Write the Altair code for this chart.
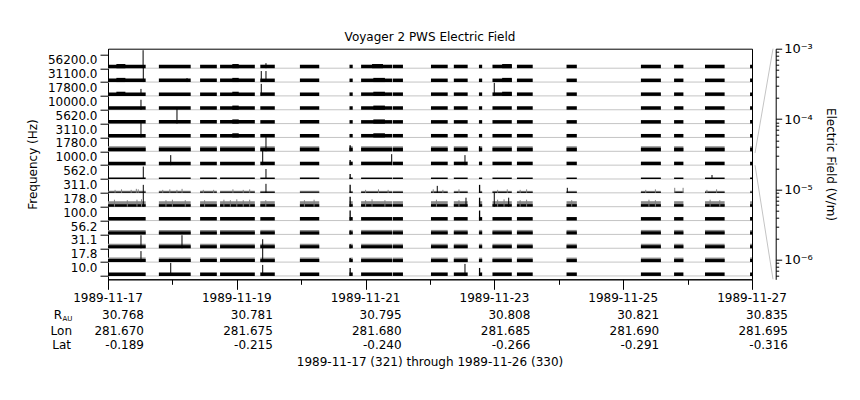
import math
import json
import altair as alt
import pandas as pd

# ---------------- data ----------------
freq_labels = ["56200.0", "31100.0", "17800.0", "10000.0", "5620.0", "3110.0", "1780.0", "1000.0",
               "562.0", "311.0", "178.0", "100.0", "56.2", "31.1", "17.8", "10.0"]

# data-coverage intervals, days after 1989-11-17 00:00
seg_start = [0.00, 0.79, 1.43, 1.74, 2.365, 2.98, 3.75, 3.93, 4.425, 5.015, 5.37, 5.76, 5.97, 6.35, 7.12, 8.275, 8.79, 9.27, 9.97]
seg_end = [0.585, 1.284, 1.69, 2.28, 2.59, 3.28, 3.80, 4.415, 4.58, 5.275, 5.585, 5.81, 6.27, 6.595, 7.28, 8.585, 8.935, 9.575, 10.0]

# typical floor level (V/m) and noise envelope (V/m, 0 = none) per channel
level_E = [4.6e-6, 4.6e-6, 4.6e-6, 4.6e-6, 4.6e-6, 4.6e-6, 4.6e-6, 4.6e-6,
           1.3e-6, 1.0e-6, 2.5e-6, 4.6e-6, 3.4e-6, 3.4e-6, 3.4e-6, 4.6e-6]
noise_E = [0, 0, 0, 0, 0, 0, 1.2e-5, 0,
           0, 1.8e-6, 1.6e-5, 0, 8.6e-6, 8.6e-6, 8.6e-6, 0]

# short raised stretches
bump_ch = [0, 0, 0, 0, 1, 1, 1, 1, 2, 2, 2, 2, 3, 3, 4, 4, 5, 5,
           6, 7, 8, 9, 10, 11, 12, 13, 14, 15,
           6, 9, 10, 11, 15]
bump_start = [0.13, 1.93, 4.10, 6.12, 0.13, 1.93, 4.12, 6.12, 0.13, 1.93, 4.12, 6.12, 1.93, 4.12, 1.93, 4.12, 1.93, 4.12,
              3.75, 3.75, 3.75, 3.75, 3.75, 3.75, 3.75, 3.75, 3.75, 3.75,
              5.76, 5.76, 5.76, 5.76, 5.76]
bump_end = [0.27, 2.03, 4.27, 6.27, 0.27, 2.03, 4.30, 6.27, 0.27, 2.03, 4.30, 6.27, 2.03, 4.30, 2.03, 4.30, 2.03, 4.30,
            3.77, 3.77, 3.77, 3.77, 3.77, 3.77, 3.77, 3.77, 3.77, 3.77,
            5.78, 5.78, 5.78, 5.78, 5.78]
bump_E = [7.0e-6, 7.0e-6, 7.0e-6, 7.0e-6, 7.0e-6, 7.0e-6, 7.0e-6, 7.0e-6, 7.0e-6, 7.0e-6, 7.0e-6, 7.0e-6, 7.0e-6, 7.0e-6, 7.0e-6, 7.0e-6, 7.0e-6, 7.0e-6,
          2.2e-5, 1.2e-5, 1.2e-5, 7.5e-5, 2.6e-4, 2.6e-4, 6.3e-6, 6.3e-6, 6.3e-6, 7.5e-5,
          1.2e-5, 7.5e-5, 1.4e-4, 2.6e-4, 7.5e-5]

# isolated bursts (black)
spike_ch = [0, 0, 1, 1, 1, 1, 2, 2, 2, 3, 4, 5, 6, 7, 7, 7, 7,
            8, 8, 8, 9, 9, 9, 9, 10, 10, 10, 10, 13, 13, 13, 14, 14, 15, 15, 15]
spike_day = [0.545, 2.453, 0.548, 2.38, 2.453, 1.227, 0.512, 2.38, 5.998, 0.512, 1.071, 0.512, 2.453, 0.974, 2.402, 4.405, 5.543,
             0.548, 2.453, 9.379, 0.548, 2.453, 5.113, 7.132, 0.548, 5.998, 6.222, 5.559, 0.512, 1.149, 2.402, 0.512, 2.402, 0.974, 2.402, 5.543]
spike_E = [3.7e-2, 1.2e-5, 3.1e-3, 4.8e-4, 4.8e-4, 6.3e-6, 4.0e-5, 8.9e-4, 1.7e-3, 2.6e-4, 5.7e-3, 5.7e-3, 1.1e-2, 2.6e-4, 5.7e-3, 4.8e-4, 2.6e-4,
           1.2e-3, 2.6e-4, 6.3e-6, 7.5e-5, 1.4e-4, 4.0e-5, 1.2e-5, 3.1e-3, 3.1e-3, 1.4e-4, 1.4e-4, 1.7e-3, 1.7e-3, 1.4e-4, 4.8e-4, 3.1e-3, 1.7e-3, 4.8e-4, 8.9e-4]

# small grey noise ticks
tick_ch = [9] * 30 + [10] * 30
tick_day = [0.11, 0.21, 0.36, 0.44, 0.47, 0.85, 0.96, 1.07, 1.15, 1.48, 1.64, 1.94, 2.10, 2.20, 4.00, 4.20, 4.35,
            5.05, 5.20, 5.45, 6.05, 6.20, 6.40, 6.50, 8.35, 8.50, 9.30, 9.45, 8.80, 8.93,
            0.10, 0.30, 0.45, 0.52, 0.90, 1.00, 1.20, 1.50, 1.80, 1.90, 2.00, 2.10, 2.20, 2.45, 3.05,
            3.20, 4.00, 4.10, 4.30, 5.10, 5.45, 6.05, 6.15, 6.40, 6.50, 8.40, 8.50, 9.35, 9.50, 7.20]
tick_E = [3.4e-6, 4.6e-6, 3.4e-6, 6.3e-6, 4.6e-6, 3.4e-6, 4.6e-6, 3.4e-6, 6.3e-6, 3.4e-6, 3.4e-6, 4.6e-6, 3.4e-6, 4.6e-6, 3.4e-6, 4.6e-6, 3.4e-6,
          4.6e-6, 3.4e-6, 4.6e-6, 3.4e-6, 4.6e-6, 3.4e-6, 4.6e-6, 3.4e-6, 4.6e-6, 3.4e-6, 4.6e-6, 1.2e-5, 1.2e-5,
          4.0e-5, 3.0e-5, 4.0e-5, 5.0e-5, 3.0e-5, 4.0e-5, 3.0e-5, 3.0e-5, 4.0e-5, 3.0e-5, 5.0e-5, 3.0e-5, 4.0e-5, 3.0e-5, 3.0e-5,
          4.0e-5, 3.0e-5, 5.0e-5, 3.0e-5, 4.0e-5, 3.0e-5, 4.0e-5, 5.0e-5, 3.0e-5, 4.0e-5, 4.0e-5, 3.0e-5, 4.0e-5, 3.0e-5, 3.0e-5]

# ephemeris table under the time axis
tick_days = [0, 2, 4, 6, 8, 10]
tick_dates = ["1989-11-17", "1989-11-19", "1989-11-21", "1989-11-23", "1989-11-25", "1989-11-27"]
r_au = ["30.768", "30.781", "30.795", "30.808", "30.821", "30.835"]
lon = ["281.670", "281.675", "281.680", "281.685", "281.690", "281.695"]
lat = ["-0.189", "-0.215", "-0.240", "-0.266", "-0.291", "-0.316"]
footer = ["1989-11-17 (321) through 1989-11-26 (330)"]

# ---------------- scales ----------------
W, H = 644, 230.6
E_MIN, E_MAX = 5.3e-7, 1e-3
BAND = 0.88
U_DOM = [-0.242, 16.408]
NCH = len(freq_labels)
LMIN, LMAX = math.log10(E_MIN), math.log10(E_MAX)
top_expr = f"datum.base + {BAND} * (log(datum.E) / LN10 - ({LMIN})) / ({LMAX - LMIN})"


def base_of(ch):
    return NCH - 1 - ch


bars = pd.DataFrame([{"base": base_of(c), "start": s, "end": e, "E": level_E[c]}
                     for c in range(NCH) for s, e in zip(seg_start, seg_end)])
noise = pd.DataFrame([{"base": base_of(c), "start": s, "end": e, "E": noise_E[c]}
                      for c in range(NCH) if noise_E[c] > 0 for s, e in zip(seg_start, seg_end)])
bumps = pd.DataFrame({"base": [base_of(c) for c in bump_ch], "start": bump_start, "end": bump_end, "E": bump_E})
spikes = pd.DataFrame({"base": [base_of(c) for c in spike_ch], "day": spike_day, "E": spike_E})
ticks = pd.DataFrame({"base": [base_of(c) for c in tick_ch], "day": tick_day, "E": tick_E})
grid = pd.DataFrame({"u": list(range(NCH))})
table = pd.DataFrame({"day": tick_days, "date": tick_dates, "r": r_au, "lon": lon, "lat": lat})

xscale = alt.Scale(domain=[0, 10], nice=False, zero=False)
yscale = alt.Scale(domain=U_DOM, nice=False, zero=False)

lab_list = json.dumps(freq_labels)
left_axis = alt.Axis(values=list(range(NCH + 1)),
                     labelExpr=f"datum.value >= 1 ? {lab_list}[{NCH} - datum.value] : ''",
                     labelOffset=5.5, labelOverlap=False, tickSize=8, labelPadding=3,
                     tickColor="black", domainColor="black", labelColor="black", grid=False,
                     title="Frequency (Hz)", titlePadding=8, titleFontWeight="normal",
                     titleColor="black", labelFontSize=12, titleFontSize=12, orient="left")
x_axis = alt.Axis(values=list(range(11)), labels=False, title=None, grid=False,
                  domainColor="black", tickColor="black", orient="bottom",
                  tickSize={"condition": {"test": "datum.value % 2 === 0", "value": 10}, "value": 5})


def X(field):
    return alt.X(field, scale=xscale, axis=x_axis)


grid_layer = alt.Chart(grid).mark_rule(color="#c4c4c4", strokeWidth=1).encode(
    y=alt.Y("u:Q", scale=yscale, axis=left_axis))

noise_layer = alt.Chart(noise).transform_calculate(top=top_expr).mark_rect(color="#8a8a8a").encode(
    x=X("start:Q"), x2="end:Q",
    y=alt.Y("base:Q", scale=yscale, axis=None), y2="top:Q")

bar_layer = alt.Chart(bars).transform_calculate(top=top_expr).mark_rect(color="black").encode(
    x=X("start:Q"), x2="end:Q",
    y=alt.Y("base:Q", scale=yscale, axis=None), y2="top:Q")

bump_layer = alt.Chart(bumps).transform_calculate(top=top_expr).mark_rect(color="black").encode(
    x=X("start:Q"), x2="end:Q",
    y=alt.Y("base:Q", scale=yscale, axis=None), y2="top:Q")

tick_layer = alt.Chart(ticks).transform_calculate(top=top_expr).mark_rule(color="#808080", strokeWidth=1).encode(
    x=X("day:Q"),
    y=alt.Y("base:Q", scale=yscale, axis=None), y2="top:Q")

spike_layer = alt.Chart(spikes).transform_calculate(top=top_expr).mark_rule(color="black", strokeWidth=1).encode(
    x=X("day:Q"),
    y=alt.Y("base:Q", scale=yscale, axis=None), y2="top:Q")

txt = dict(font="DejaVu Sans", fontSize=12, color="black", baseline="middle")
date_layer = alt.Chart(table).mark_text(align="center", **txt).encode(
    x=X("day:Q"), y=alt.value(249.6), text="date:N")
r_layer = alt.Chart(table).mark_text(align="right", dx=36, **txt).encode(
    x=X("day:Q"), y=alt.value(266), text="r:N")
lon_layer = alt.Chart(table).mark_text(align="right", dx=36, **txt).encode(
    x=X("day:Q"), y=alt.value(282), text="lon:N")
lat_layer = alt.Chart(table).mark_text(align="right", dx=36, **txt).encode(
    x=X("day:Q"), y=alt.value(296), text="lat:N")

rowlab = pd.DataFrame({"r": ["R"], "au": ["AU"], "lon": ["Lon"], "lat": ["Lat"], "foot": footer})
rl1 = alt.Chart(rowlab).mark_text(align="right", **txt).encode(x=alt.value(-46), y=alt.value(266), text="r:N")
rl2 = alt.Chart(rowlab).mark_text(align="left", font="DejaVu Sans", fontSize=7, color="black",
                                  baseline="middle").encode(x=alt.value(-45.5), y=alt.value(270), text="au:N")
rl3 = alt.Chart(rowlab).mark_text(align="right", **txt).encode(x=alt.value(-36), y=alt.value(282), text="lon:N")
rl4 = alt.Chart(rowlab).mark_text(align="right", **txt).encode(x=alt.value(-37), y=alt.value(296), text="lat:N")
foot_layer = alt.Chart(rowlab).mark_text(align="center", **txt).encode(
    x=alt.value(W / 2), y=alt.value(313.3), text="foot:N")


# ---------------- right-hand electric-field scale ----------------
def upix(u):
    return (U_DOM[1] - u) / (U_DOM[1] - U_DOM[0]) * H


ref_ch = freq_labels.index("1000.0")
band_top_px = upix(base_of(ref_ch) + BAND)
band_bot_px = upix(base_of(ref_ch))

maj = "abs(log(datum.value)/LN10 - round(log(datum.value)/LN10)) < 0.01"
evals = []
for p in range(-7, -2):
    for m in range(1, 10):
        v = float(f"{m}e{p}")
        if E_MIN <= v <= E_MAX * 1.0001:
            evals.append(v)
sup = json.dumps(["\u207b\u2076", "\u207b\u2075", "\u207b\u2074", "\u207b\u00b3"])
right_axis = alt.Axis(orient="right", offset=23.7, values=evals, labelOverlap=False,
                      labelExpr=f"({maj}) ? '10' + {sup}[round(log(datum.value)/LN10) + 6] : ''",
                      tickSize={"condition": {"test": maj, "value": 6}, "value": 3},
                      labelPadding=2, labelFontSize=13, tickColor="black", domainColor="black",
                      labelColor="black", grid=False, title="Electric Field (V/m)",
                      titleFontWeight="normal", titleFontSize=12, titleColor="black", titlePadding=11)
escale = alt.Scale(type="log", domain=[E_MIN, E_MAX], nice=False)

conn = pd.DataFrame({"E": [E_MAX, E_MIN]})
conn_top = alt.Chart(conn).transform_filter(alt.datum.E == E_MAX).mark_rule(color="#c4c4c4").encode(
    x=alt.value(W + 21), x2=alt.value(W + 3),
    y=alt.Y("E:Q", scale=escale, axis=right_axis), y2=alt.value(band_top_px))
conn_bot = alt.Chart(conn).transform_filter(alt.datum.E == E_MIN).transform_calculate(
    E2="datum.E").mark_rule(color="#c4c4c4").encode(
    x=alt.value(W + 21), x2=alt.value(W + 3),
    y=alt.Y("E2:Q", scale=escale, axis=None), y2=alt.value(band_bot_px))

chart = alt.layer(grid_layer, conn_top, noise_layer, bar_layer, bump_layer, tick_layer, spike_layer,
                  date_layer, r_layer, lon_layer, lat_layer, rl1, rl2, rl3, rl4, foot_layer, conn_bot
                  ).resolve_scale(y="independent").resolve_axis(y="independent").properties(
    width=W, height=H,
    title=alt.Title("Voyager 2 PWS Electric Field", font="DejaVu Sans", fontSize=12,
                    fontWeight="normal", color="black", anchor="middle", frame="group", offset=1, dy=2),
    padding={"left": 100, "top": 40.7, "right": 100, "bottom": 112.7},
    autosize=alt.AutoSizeParams(type="none"),
).configure(font="DejaVu Sans").configure_view(stroke="black", strokeWidth=1)

chart.save("out.html", embed_options={"renderer": "svg", "actions": False})
